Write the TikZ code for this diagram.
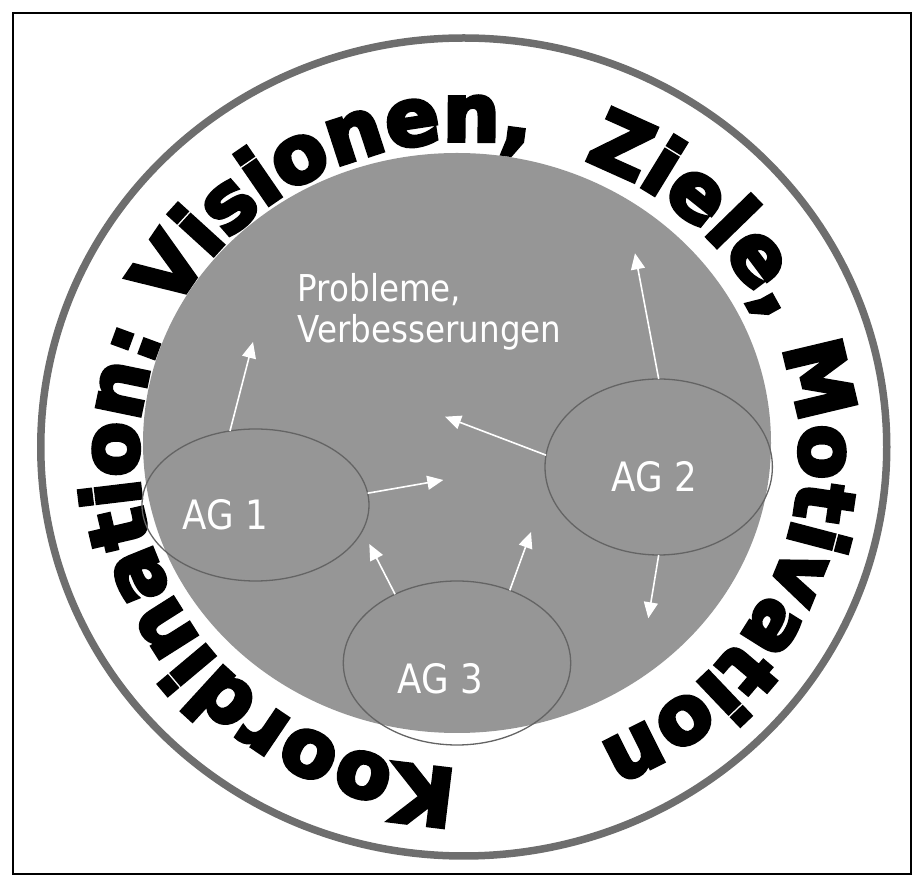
\documentclass[tikz,border=0pt]{standalone}
\usepackage{fontspec}
\usetikzlibrary{shapes.geometric,arrows.meta,decorations.text}
\newfontfamily\ringfont[FakeBold=5]{DejaVu Sans Bold}
\newfontfamily\tahfont[FakeStretch=0.88]{DejaVu Sans}
\definecolor{diskgray}{RGB}{150,150,150}
\definecolor{ringgray}{RGB}{110,110,110}
\definecolor{ellgray}{RGB}{100,100,100}
\begin{document}
\begin{tikzpicture}[x=1pt,y=1pt,
  agell/.style={ellipse, draw=ellgray, line width=1.3pt, inner sep=0pt, outer sep=0pt},
  aglabel/.style={text=white, font=\tahfont\fontsize{40.5}{40.5}\selectfont, inner sep=0pt},
  plabel/.style={anchor=base west, text=white, font=\tahfont\fontsize{37}{41}\selectfont, inner sep=0pt},
  wline/.style={draw=white, line width=1.6pt, -{Triangle[length=16pt,width=14pt]}}
  ]
\useasboundingbox (0,0) rectangle (914,876);
\draw[line width=2.2pt] (13,2) rectangle (911,863);
\fill[diskgray] (457,433) ellipse [x radius=314, y radius=290];
\draw[ringgray, line width=7.5pt] (463.75,429) ellipse [x radius=423, y radius=409];
\coordinate (tc) at (469,421);
\path[decorate, decoration={text along path,
   text={|\ringfont\fontsize{80}{80}\selectfont|Koordination: Visionen,{ } Ziele, Motivation},
   text align={fit to path}}]
   (tc) ++(268:331 and 314) arc[start angle=268, end angle=-67, x radius=331, y radius=314];

\node[agell, minimum width=227pt, minimum height=152pt] (ag1) at (255.5,371) {};
\node[agell, minimum width=227.4pt, minimum height=176pt] (ag2) at (658.7,409) {};
\node[agell, minimum width=227.4pt, minimum height=164pt] (ag3) at (457,213) {};
\node[aglabel] (l1) at (225,361) {AG 1};
\node[aglabel] (l2) at (654,399) {AG 2};
\node[aglabel] (l3) at (440,197) {AG 3};
\node[plabel] (p1) at (297.5,574.3) {Probleme,};
\node[plabel] (p2) at (297.5,533) {Verbesserungen};

\coordinate (t1) at (253,534);
\coordinate (t2) at (443.3,396);
\coordinate (t3) at (369.3,332);
\coordinate (t4) at (531,344);
\coordinate (t5) at (445,459.3);
\coordinate (t6) at (635,622.7);
\coordinate (t7) at (648.3,257.7);
\draw[wline] (ag1.109) -- (t1);
\draw[wline] (ag1.6) -- (t2);
\draw[wline] (ag3.132) -- (t3);
\draw[wline] (ag3.54) -- (t4);
\draw[wline] (ag2.174) -- (t5);
\draw[wline] (ag2.90) -- (t6);
\draw[wline] (ag2.-90) -- (t7);
\end{tikzpicture}
\end{document}
